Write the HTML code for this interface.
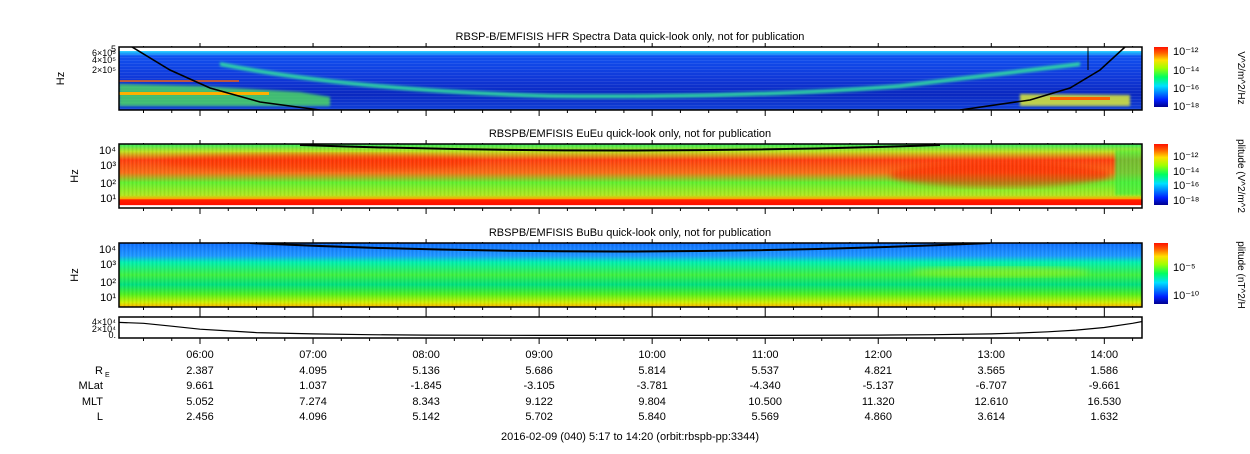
<!DOCTYPE html>
<html><head><meta charset="utf-8"><style>
body{margin:0;background:#fff;width:1250px;height:449px;overflow:hidden;font-family:"Liberation Sans",sans-serif}
svg text{font-family:"Liberation Sans",sans-serif;fill:#000}
</style></head><body>
<svg id="c" width="1250" height="449">
<defs>
<linearGradient id="jet" x1="0" y1="1" x2="0" y2="0">
<stop offset="0" stop-color="#00008f"/><stop offset="0.12" stop-color="#0020ff"/><stop offset="0.35" stop-color="#00e0ff"/><stop offset="0.5" stop-color="#00ff60"/><stop offset="0.65" stop-color="#a0ff00"/><stop offset="0.78" stop-color="#ffe000"/><stop offset="0.9" stop-color="#ff6000"/><stop offset="1" stop-color="#ff1000"/></linearGradient>
<linearGradient id="g1" x1="0" y1="0" x2="0" y2="1">
<stop offset="0" stop-color="#20e0ff"/><stop offset="0.08" stop-color="#20c0ff"/><stop offset="0.15" stop-color="#1050f0"/><stop offset="0.5" stop-color="#1038d8"/><stop offset="0.75" stop-color="#0a28c0"/><stop offset="1" stop-color="#1040d8"/></linearGradient>
<linearGradient id="g2" x1="0" y1="0" x2="0" y2="1">
<stop offset="0" stop-color="#30ee60"/><stop offset="0.12" stop-color="#c0e020"/><stop offset="0.25" stop-color="#ff4010"/><stop offset="0.45" stop-color="#f87018"/><stop offset="0.6" stop-color="#60f030"/><stop offset="0.8" stop-color="#b0e820"/><stop offset="0.86" stop-color="#ffa000"/><stop offset="0.87" stop-color="#ff2000"/><stop offset="0.95" stop-color="#ff1000"/><stop offset="0.96" stop-color="#ffffff"/><stop offset="1" stop-color="#ffffff"/></linearGradient>
<linearGradient id="g3" x1="0" y1="0" x2="0" y2="1">
<stop offset="0" stop-color="#1070ff"/><stop offset="0.2" stop-color="#2098ff"/><stop offset="0.3" stop-color="#00f0b0"/><stop offset="0.5" stop-color="#40f040"/><stop offset="0.65" stop-color="#00e080"/><stop offset="0.8" stop-color="#50f020"/><stop offset="0.93" stop-color="#d0f000"/><stop offset="1" stop-color="#ffb000"/></linearGradient>
<pattern id="stripes" width="4" height="64" patternUnits="userSpaceOnUse"><rect x="0" y="0" width="1" height="64" fill="#000" opacity="0.06"/><rect x="2" y="0" width="1" height="64" fill="#fff" opacity="0.06"/></pattern>
<pattern id="hstripes" width="1250" height="3" patternUnits="userSpaceOnUse"><rect x="0" y="0" width="1250" height="1" fill="#fff" opacity="0.08"/></pattern>
<filter id="bl"><feGaussianBlur stdDeviation="3"/></filter>
<filter id="bl1"><feGaussianBlur stdDeviation="1.2"/></filter>
<clipPath id="cp1"><rect x="119" y="47" width="1023" height="63"/></clipPath>
<clipPath id="cp2"><rect x="119" y="144" width="1023" height="64"/></clipPath>
<clipPath id="cp3"><rect x="119" y="243" width="1023" height="64"/></clipPath>
</defs>
<g id="root"></g>
</svg>
<script>
const tickLabels=["06:00","07:00","08:00","09:00","10:00","11:00","12:00","13:00","14:00"];
const tickHours=[6,7,8,9,10,11,12,13,14];
const RE=["2.387","4.095","5.136","5.686","5.814","5.537","4.821","3.565","1.586"];
const MLat=["9.661","1.037","-1.845","-3.105","-3.781","-4.340","-5.137","-6.707","-9.661"];
const MLT=["5.052","7.274","8.343","9.122","9.804","10.500","11.320","12.610","16.530"];
const Lval=["2.456","4.096","5.142","5.702","5.840","5.569","4.860","3.614","1.632"];
const fceHours=[5.28,5.5,5.75,6,6.25,6.5,7,7.5,8,9,10,11,12,12.5,13,13.25,13.5,13.75,14,14.25,14.33];
const fceVals=[32000,30000,23000,16000,12000,8000,5000,3000,2000,1500,1400,1500,2200,3000,5000,7000,10000,14000,20000,30000,34000];
const svgNS="http://www.w3.org/2000/svg";
const root=document.getElementById('root');
const X0=119,X1=1142,T0=5+17/60,T1=14+20/60;
const xs=h=>X0+(h-T0)/(T1-T0)*(X1-X0);
function el(tag,attrs,parent){const e=document.createElementNS(svgNS,tag);for(const k in attrs)e.setAttribute(k,attrs[k]);(parent||root).appendChild(e);return e;}
function txt(x,y,s,anchor,size,parent){const t=el('text',{x:x,y:y,'font-size':size||11,'text-anchor':anchor||'middle'},parent);t.textContent=s;return t;}
const panels=[{y:47,h:63,g:'g1',cp:'cp1',title:'RBSP-B/EMFISIS  HFR Spectra Data quick-look only, not for publication'},
{y:144,h:64,g:'g2',cp:'cp2',title:'RBSPB/EMFISIS  EuEu quick-look only, not for publication'},
{y:243,h:64,g:'g3',cp:'cp3',title:'RBSPB/EMFISIS  BuBu quick-look only, not for publication'}];
panels.forEach((p,i)=>{
 const g=el('g',{'clip-path':'url(#'+p.cp+')'});
 
 
 el('rect',{x:X0,y:p.y,width:X1-X0,height:p.h,fill:'url(#'+p.g+')'},g);
 if(i===0){
  el('rect',{x:X0,y:p.y,width:X1-X0,height:4,fill:'#fff'},g);
  el('rect',{x:X0,y:p.y,width:X1-X0,height:p.h,fill:'url(#hstripes)'},g);
  el('path',{d:'M119 84 L200 86 L300 92 L330 97 L330 106 L119 106Z',fill:'#50e060',opacity:0.8,filter:'url(#bl1)'},g);
  el('rect',{x:119,y:92,width:150,height:3,fill:'#ffb000'},g);
  el('rect',{x:119,y:80,width:120,height:2,fill:'#ff6000',opacity:0.7},g);
  el('path',{d:'M220 62 Q350 88 550 94 Q750 96 900 84 L1080 62 L1080 66 L900 88 Q750 100 550 98 Q350 92 220 66Z',fill:'#30e0a0',opacity:0.9,filter:'url(#bl1)'},g);
  el('path',{d:'M1020 94 L1130 95 L1130 106 L1020 106Z',fill:'#d0e040',opacity:0.9,filter:'url(#bl1)'},g);
  el('rect',{x:1050,y:97,width:60,height:3,fill:'#ff6000'},g);
  el('path',{d:'M'+[[132,47],[170,70],[210,88],[260,102],[320,110]].join(' L'),fill:'none',stroke:'#000','stroke-width':1.6},g);
  el('path',{d:'M'+[[960,110],[1030,100],[1070,88],[1100,70],[1125,47]].join(' L'),fill:'none',stroke:'#000','stroke-width':1.6},g);
  el('line',{x1:1088,y1:47,x2:1088,y2:70,stroke:'#000','stroke-width':1},g);
 }
 if(i===1){
  el('ellipse',{cx:1000,cy:175,rx:110,ry:12,fill:'#ff2000',opacity:0.6,filter:'url(#bl)'},g);
  el('ellipse',{cx:320,cy:162,rx:160,ry:8,fill:'#ff3000',opacity:0.5,filter:'url(#bl)'},g);
  el('rect',{x:1115,y:150,width:27,height:45,fill:'#40f040',opacity:0.7,filter:'url(#bl1)'},g);
  el('rect',{x:X0,y:p.y,width:X1-X0,height:52,fill:'url(#stripes)'},g);
  el('path',{d:'M300 145 Q620 156 940 145',fill:'none',stroke:'#000','stroke-width':2},g);
 }
 if(i===2){
  el('ellipse',{cx:1000,cy:272,rx:90,ry:5,fill:'#c0f000',opacity:0.5,filter:'url(#bl)'},g);
  el('rect',{x:X0,y:p.y,width:X1-X0,height:p.h,fill:'url(#stripes)'},g);
  el('path',{d:'M250 243 Q610 260 990 243',fill:'none',stroke:'#000','stroke-width':2},g);
 }
 el('rect',{x:X0,y:p.y,width:X1-X0,height:p.h,fill:'none',stroke:'#000','stroke-width':1.5});
 txt(630,p.y-7,p.title,'middle',11);
 const cb=el('rect',{x:1154,y:p.y,width:14,height:p.h-3,fill:'url(#jet)'});
 
 
 const yl=txt(0,0,'Hz','middle',11);yl.setAttribute('transform','translate('+(i===0?64:78)+','+(p.y+p.h/2)+') rotate(-90)');
});
[['6×10⁵',53],['4×10⁵',60],['2×10⁵',70],['5',49]].forEach(a=>txt(116,a[1]+3,a[0],'end',9));
[['10⁴',150],['10³',165],['10²',183],['10¹',198]].forEach(a=>txt(116,a[1]+4,a[0],'end',11));
[['10⁴',249],['10³',264],['10²',282],['10¹',297]].forEach(a=>txt(116,a[1]+4,a[0],'end',11));
[['4×10⁴',322],['2×10⁴',329],['0.',335]].forEach(a=>txt(116,a[1]+3,a[0],'end',9));
[['10⁻¹²',51],['10⁻¹⁴',70],['10⁻¹⁶',88],['10⁻¹⁸',106]].forEach(a=>txt(1173,a[1]+4,a[0],'start',11));
[['10⁻¹²',156],['10⁻¹⁴',171],['10⁻¹⁶',185],['10⁻¹⁸',200]].forEach(a=>txt(1173,a[1]+4,a[0],'start',11));
[['10⁻⁵',267],['10⁻¹⁰',295]].forEach(a=>txt(1173,a[1]+4,a[0],'start',11));
[['V^2/m^2/Hz',78],['plitude (V^2/m^2',176],['plitude (nT^2/H',275]].forEach(a=>{const t=txt(0,0,a[0],'middle',10);t.setAttribute('transform','translate(1238,'+a[1]+') rotate(90)');});
const lp=el('rect',{x:X0,y:317,width:X1-X0,height:21,fill:'#fff',stroke:'#000','stroke-width':1.5});


const ly=v=>336-v/40000*17;
const line=el('path',{d:'M'+fceHours.map((h,k)=>xs(h).toFixed(1)+' '+ly(fceVals[k]).toFixed(1)).join(' L'),fill:'none',stroke:'#000','stroke-width':1.2});


[[47,110],[144,208],[243,307],[317,338]].forEach(([t,b])=>{
 for(let m=T0*60;m<=T1*60;m+=1){if(m%15)continue;const h=m/60,x=xs(h),major=m%60===0,len=major?6:3;
  el('line',{x1:x,y1:b,x2:x,y2:b+len,stroke:'#000','stroke-width':1});el('line',{x1:x,y1:t,x2:x,y2:t-len+2,stroke:'#000','stroke-width':1});}
});
tickHours.forEach((h,k)=>{const x=xs(h);
 txt(x,358,tickLabels[k]);txt(x,374,RE[k]);txt(x,389,MLat[k]);txt(x,405,MLT[k]);txt(x,420,Lval[k]);});
[['R',374],['MLat',389],['MLT',405],['L',420]].forEach(a=>txt(103,a[1],a[0],'end',11));
txt(105,377,'E','start',7);
txt(630,440,'2016-02-09 (040) 5:17 to 14:20 (orbit:rbspb-pp:3344)','middle',11);
</script>
</body></html>
